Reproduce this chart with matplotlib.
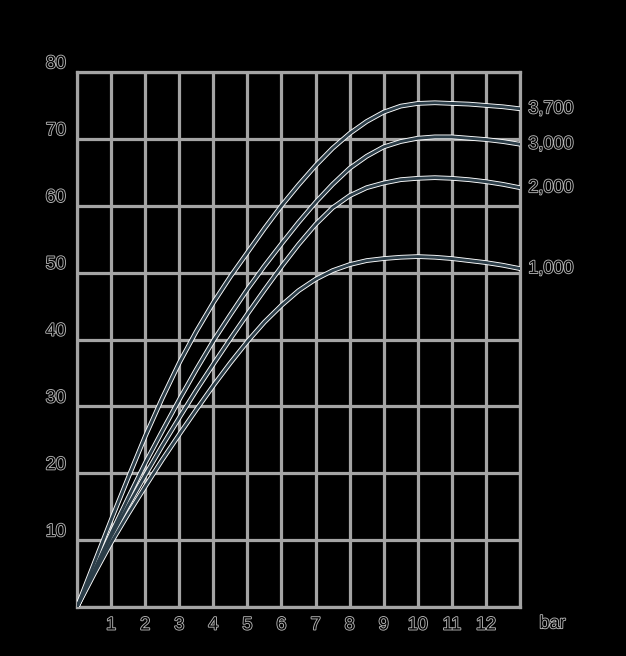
import matplotlib
matplotlib.use("Agg")
import matplotlib.pyplot as plt
import matplotlib.patheffects as pe

# ---- data (read at half-bar steps) ----
x_vals = [0, 0.5, 1, 1.5, 2, 2.5, 3, 3.5, 4, 4.5, 5, 5.5, 6, 6.5, 7, 7.5, 8, 8.5,
          9, 9.5, 10, 10.5, 11, 11.5, 12, 12.5, 13]
curve_1000 = [0, 4.9, 9.6, 13.9, 18, 22, 25.8, 29.5, 33.1, 36.5, 39.7, 42.6, 45.1,
              47.3, 49, 50.3, 51.2, 51.8, 52.1, 52.3, 52.4, 52.3, 52.1, 51.8, 51.5, 51.1, 50.6]
curve_2000 = [0, 5.3, 10.5, 15.2, 19.7, 24.1, 28.3, 32.4, 36.3, 40.1, 43.8, 47.4, 50.9,
              54.2, 57.2, 59.7, 61.5, 62.7, 63.4, 63.9, 64.1, 64.2, 64.1, 63.9, 63.6, 63.2, 62.7]
curve_3000 = [0, 5.5, 11, 16.3, 21.5, 26.3, 31, 35.5, 39.8, 43.7, 47.5, 51, 54.3,
              57.5, 60.5, 63.2, 65.6, 67.4, 68.8, 69.6, 70.1, 70.3, 70.3, 70.1, 69.9, 69.6, 69.2]
curve_3700 = [0, 6.5, 13, 19.3, 25.5, 31.2, 36.5, 41.2, 45.5, 49.4, 53, 56.6, 60,
              63.1, 66, 68.6, 70.8, 72.6, 74, 74.9, 75.3, 75.4, 75.3, 75.2, 75.0, 74.8, 74.5]
series = [("1,000", curve_1000), ("2,000", curve_2000),
          ("3,000", curve_3000), ("3,700", curve_3700)]
x_ticks = [1, 2, 3, 4, 5, 6, 7, 8, 9, 10, 11, 12]
y_ticks = [10, 20, 30, 40, 50, 60, 70, 80]
x_unit = "bar"

# ---- figure ----
W, H = 626, 656
fig = plt.figure(figsize=(W / 100, H / 100), dpi=100, facecolor="black")
ax = fig.add_axes([77 / W, 1 - 607 / H, (520 - 77) / W, (607 - 72) / H])
ax.set_facecolor("black")
ax.set_xlim(0, 13)
ax.set_ylim(0, 80)

grid_c = "#a4a4a4"
ax.set_xticks(range(0, 14))
ax.set_yticks(range(0, 81, 10))
ax.tick_params(length=0, labelbottom=False, labelleft=False)
ax.grid(True, color=grid_c, lw=2.3, zorder=1)
for s in ax.spines.values():
    s.set_color(grid_c)
    s.set_linewidth(2.3)

for name, ys in series:
    ax.plot(x_vals, ys, color="white", lw=3.4, solid_capstyle="round", zorder=3)
    ax.plot(x_vals, ys, color="#2b3d48", lw=2.1, solid_capstyle="round", zorder=4)

outline = [pe.withStroke(linewidth=1.3, foreground="#b4b4b4")]
font = dict(family=["Liberation Sans", "DejaVu Sans"], fontsize=13, color="black",
            path_effects=outline)

for v in y_ticks:
    ax.annotate(str(v), xy=(0, v), xycoords="data", xytext=(-8, 6),
                textcoords="offset points", ha="right", va="center",
                annotation_clip=False, **font)
for v in x_ticks:
    ax.annotate(str(v), xy=(v, 0), xycoords="data", xytext=(0, -13),
                textcoords="offset points", ha="center", va="center",
                annotation_clip=False, **font)
ax.annotate(x_unit, xy=(13, 0), xycoords="data", xytext=(14, -12),
            textcoords="offset points", ha="left", va="center",
            annotation_clip=False, **font)

for name, ys in series:
    ax.annotate(name, xy=(x_vals[-1], ys[-1]), xycoords="data", xytext=(6, 0),
                textcoords="offset points", ha="left", va="center",
                annotation_clip=False, **font)

fig.savefig("out.png", dpi=100, facecolor="black")
